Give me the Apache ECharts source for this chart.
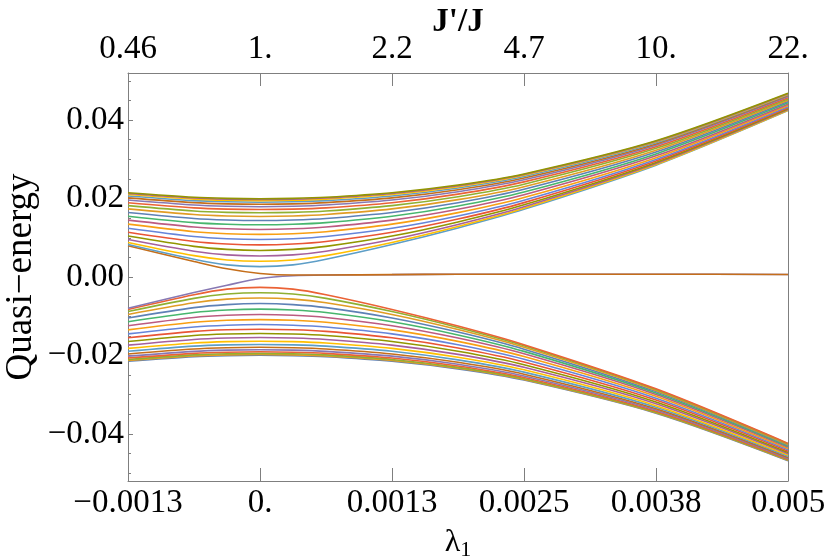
<!DOCTYPE html>
<html>
<head>
<meta charset="utf-8">
<script src="https://cdn.jsdelivr.net/npm/echarts@6/dist/echarts.min.js"></script>
<style>
html, body { margin: 0; padding: 0; background: #fff; }
#chart { width: 830px; height: 556px; }
</style>
</head>
<body>
<div id="chart"></div>
<script>
// lambda_1 sample points
var lambdas = [-0.00125, -0.000625, -0.0003125, 0, 0.0003125, 0.000625, 0.00125, 0.001875, 0.0025, 0.00375, 0.005];

// upper band, top line first
var upperBand = [
    [0.02147, 0.02032, 0.02004, 0.01994, 0.02004, 0.02032, 0.02147, 0.02343, 0.02627, 0.03471, 0.04681],
    [0.02130, 0.02015, 0.01986, 0.01977, 0.01986, 0.02015, 0.02130, 0.02328, 0.02614, 0.03461, 0.04674],
    [0.02103, 0.01986, 0.01957, 0.01947, 0.01957, 0.01986, 0.02103, 0.02303, 0.02592, 0.03445, 0.04661],
    [0.02066, 0.01946, 0.01917, 0.01907, 0.01917, 0.01946, 0.02066, 0.02269, 0.02561, 0.03422, 0.04645],
    [0.02018, 0.01896, 0.01865, 0.01855, 0.01865, 0.01896, 0.02018, 0.02225, 0.02523, 0.03393, 0.04624],
    [0.01961, 0.01834, 0.01803, 0.01792, 0.01803, 0.01834, 0.01961, 0.02173, 0.02477, 0.03360, 0.04599],
    [0.01894, 0.01763, 0.01730, 0.01719, 0.01730, 0.01763, 0.01894, 0.02113, 0.02425, 0.03321, 0.04571],
    [0.01819, 0.01682, 0.01647, 0.01636, 0.01647, 0.01682, 0.01819, 0.02046, 0.02366, 0.03279, 0.04540],
    [0.01736, 0.01592, 0.01555, 0.01543, 0.01555, 0.01592, 0.01736, 0.01973, 0.02303, 0.03233, 0.04507],
    [0.01646, 0.01493, 0.01454, 0.01441, 0.01454, 0.01493, 0.01646, 0.01894, 0.02236, 0.03186, 0.04474],
    [0.01550, 0.01387, 0.01345, 0.01331, 0.01345, 0.01387, 0.01550, 0.01811, 0.02167, 0.03138, 0.04439],
    [0.01450, 0.01274, 0.01228, 0.01212, 0.01228, 0.01274, 0.01450, 0.01727, 0.02096, 0.03089, 0.04405],
    [0.01347, 0.01155, 0.01104, 0.01087, 0.01104, 0.01155, 0.01347, 0.01641, 0.02026, 0.03042, 0.04372],
    [0.01243, 0.01032, 0.00975, 0.00955, 0.00975, 0.01032, 0.01243, 0.01557, 0.01959, 0.02998, 0.04342],
    [0.01141, 0.00906, 0.00841, 0.00818, 0.00841, 0.00906, 0.01141, 0.01477, 0.01896, 0.02957, 0.04313],
    [0.01043, 0.00780, 0.00703, 0.00676, 0.00703, 0.00780, 0.01043, 0.01403, 0.01839, 0.02921, 0.04289],
    [0.00955, 0.00658, 0.00564, 0.00535, 0.00564, 0.00658, 0.00955, 0.01339, 0.01790, 0.02891, 0.04268],
    [0.00881, 0.00545, 0.00435, 0.00400, 0.00435, 0.00545, 0.00881, 0.01287, 0.01752, 0.02867, 0.04252],
    [0.00827, 0.00452, 0.00310, 0.00265, 0.00310, 0.00452, 0.00827, 0.01250, 0.01725, 0.02851, 0.04241]
];

// lower band, bottom line first
var lowerBand = [
    [-0.02147, -0.02032, -0.02004, -0.01994, -0.02004, -0.02032, -0.02147, -0.02343, -0.02627, -0.03471, -0.04681],
    [-0.02130, -0.02015, -0.01986, -0.01977, -0.01986, -0.02015, -0.02130, -0.02328, -0.02614, -0.03461, -0.04674],
    [-0.02103, -0.01986, -0.01957, -0.01947, -0.01957, -0.01986, -0.02103, -0.02303, -0.02592, -0.03445, -0.04661],
    [-0.02066, -0.01946, -0.01917, -0.01907, -0.01917, -0.01946, -0.02066, -0.02269, -0.02561, -0.03422, -0.04645],
    [-0.02018, -0.01896, -0.01865, -0.01855, -0.01865, -0.01896, -0.02018, -0.02225, -0.02523, -0.03393, -0.04624],
    [-0.01961, -0.01834, -0.01803, -0.01792, -0.01803, -0.01834, -0.01961, -0.02173, -0.02477, -0.03360, -0.04599],
    [-0.01894, -0.01763, -0.01730, -0.01719, -0.01730, -0.01763, -0.01894, -0.02113, -0.02425, -0.03321, -0.04571],
    [-0.01819, -0.01682, -0.01647, -0.01636, -0.01647, -0.01682, -0.01819, -0.02046, -0.02366, -0.03279, -0.04540],
    [-0.01736, -0.01592, -0.01555, -0.01543, -0.01555, -0.01592, -0.01736, -0.01973, -0.02303, -0.03233, -0.04507],
    [-0.01646, -0.01493, -0.01454, -0.01441, -0.01454, -0.01493, -0.01646, -0.01894, -0.02236, -0.03186, -0.04474],
    [-0.01550, -0.01387, -0.01345, -0.01331, -0.01345, -0.01387, -0.01550, -0.01811, -0.02167, -0.03138, -0.04439],
    [-0.01450, -0.01274, -0.01228, -0.01212, -0.01228, -0.01274, -0.01450, -0.01727, -0.02096, -0.03089, -0.04405],
    [-0.01347, -0.01155, -0.01104, -0.01087, -0.01104, -0.01155, -0.01347, -0.01641, -0.02026, -0.03042, -0.04372],
    [-0.01243, -0.01032, -0.00975, -0.00955, -0.00975, -0.01032, -0.01243, -0.01557, -0.01959, -0.02998, -0.04342],
    [-0.01141, -0.00906, -0.00841, -0.00818, -0.00841, -0.00906, -0.01141, -0.01477, -0.01896, -0.02957, -0.04313],
    [-0.01043, -0.00780, -0.00703, -0.00676, -0.00703, -0.00780, -0.01043, -0.01403, -0.01839, -0.02921, -0.04289],
    [-0.00955, -0.00658, -0.00564, -0.00535, -0.00564, -0.00658, -0.00955, -0.01339, -0.01790, -0.02891, -0.04268],
    [-0.00881, -0.00545, -0.00435, -0.00400, -0.00435, -0.00545, -0.00881, -0.01287, -0.01752, -0.02867, -0.04252],
    [-0.00827, -0.00452, -0.00310, -0.00265, -0.00310, -0.00452, -0.00827, -0.01250, -0.01725, -0.02851, -0.04241]
];

// the two in-gap lines
var edgeLower = [-0.00798, -0.00397, -0.00209, -0.00040, 0.00030, 0.00050, 0.00060, 0.00070, 0.00070, 0.00070, 0.00065];
var edgeUpper = [0.00798, 0.00397, 0.00209, 0.00090, 0.00050, 0.00050, 0.00060, 0.00070, 0.00070, 0.00070, 0.00065];

var xLabels = ['\u22120.0013', '0.', '0.0013', '0.0025', '0.0038', '0.005'];
var topLabels = ['0.46', '1.', '2.2', '4.7', '10.', '22.'];
var yTicks = [-0.04, -0.02, 0, 0.02, 0.04];
var yLabels = ['\u22120.04', '\u22120.02', '0.00', '0.02', '0.04'];
var yMinorTicks = [-0.05, -0.045, -0.035, -0.03, -0.025, -0.015, -0.01, -0.005,
                   0.005, 0.01, 0.015, 0.025, 0.03, 0.035, 0.045, 0.05];

var colorList = ['#5E81B5', '#E19C24', '#8FB032', '#EB6235', '#8778B3', '#C56E1A', '#5D9EC7', '#FFBF00',
                 '#A5609D', '#929600', '#E95536', '#6685D9', '#F89F13', '#BC5B80', '#47B66D'];

var font = 'Liberation Serif';
var frameColor = '#7f7f7f';

// order of curves: lower band bottom->top, in-gap lines, upper band bottom->top
var lines = [];
lowerBand.forEach(function (l) { lines.push(l); });
lines.push(edgeLower);
lines.push(edgeUpper);
for (var i = upperBand.length - 1; i >= 0; i--) {
    lines.push(upperBand[i]);
}

var series = lines.map(function (line, idx) {
    return {
        type: 'line',
        xAxisIndex: 0,
        yAxisIndex: 0,
        showSymbol: false,
        smooth: 0.3,
        lineStyle: { width: 1.6, color: colorList[idx % colorList.length] },
        data: lambdas.map(function (x, j) { return [x, line[j]]; })
    };
});

var myChart = echarts.init(document.getElementById('chart'));
var option = {
    animation: false,
    grid: { left: 128, right: 42, top: 73, bottom: 75, containLabel: false, outerBoundsMode: 'none' },
    xAxis: [
        {
            type: 'value',
            position: 'bottom',
            min: -0.00125,
            max: 0.005,
            interval: 0.00125,
            name: '\u03bb{sub|1}',
            nameLocation: 'middle',
            nameGap: 44,
            nameMoveOverlap: false,
            nameTextStyle: {
                fontFamily: font, fontSize: 32, color: '#000',
                rich: { sub: { fontFamily: font, fontSize: 22, verticalAlign: 'bottom', padding: [14, 0, 0, 0] } }
            },
            axisLine: { onZero: false, lineStyle: { color: frameColor, width: 1 } },
            axisTick: { inside: true, length: 13, lineStyle: { color: frameColor } },
            splitLine: { show: false },
            axisLabel: {
                margin: 6,
                color: '#000',
                fontFamily: font,
                fontSize: 33,
                formatter: function (v, i) { return xLabels[i]; }
            }
        },
        {
            type: 'value',
            position: 'top',
            min: -0.00125,
            max: 0.005,
            interval: 0.00125,
            name: "J'/J",
            nameLocation: 'middle',
            nameGap: 34,
            nameMoveOverlap: false,
            nameTextStyle: { fontFamily: font, fontSize: 33, fontWeight: 'bold', color: '#000' },
            axisLine: { onZero: false, lineStyle: { color: frameColor, width: 1 } },
            axisTick: { inside: true, length: 13, lineStyle: { color: frameColor } },
            splitLine: { show: false },
            axisLabel: {
                margin: 7,
                color: '#000',
                fontFamily: font,
                fontSize: 33,
                formatter: function (v, i) { return topLabels[i]; }
            }
        }
    ],
    yAxis: [
        {
            type: 'value',
            position: 'left',
            min: -0.052,
            max: 0.052,
            name: 'Quasi\u2212energy',
            nameLocation: 'middle',
            nameGap: 88,
            nameMoveOverlap: false,
            nameTextStyle: { fontFamily: font, fontSize: 37, color: '#000' },
            axisLine: { show: true, onZero: false, lineStyle: { color: frameColor, width: 1 } },
            axisTick: { inside: true, length: 5, customValues: yTicks, lineStyle: { color: frameColor } },
            splitLine: { show: false },
            axisLabel: {
                margin: 4,
                color: '#000',
                fontFamily: font,
                fontSize: 33,
                customValues: yTicks,
                formatter: function (v) { return yLabels[yTicks.indexOf(v)]; }
            }
        },
        {
            type: 'value',
            position: 'left',
            min: -0.052,
            max: 0.052,
            axisLine: { show: false, onZero: false },
            axisTick: { inside: true, length: 3, customValues: yMinorTicks, lineStyle: { color: frameColor } },
            axisLabel: { show: false },
            splitLine: { show: false }
        },
        {
            type: 'value',
            position: 'right',
            min: -0.052,
            max: 0.052,
            axisLine: { show: true, onZero: false, lineStyle: { color: frameColor, width: 1 } },
            axisTick: { show: false },
            axisLabel: { show: false },
            splitLine: { show: false }
        }
    ],
    series: series
};
myChart.setOption(option);
</script>
</body>
</html>
